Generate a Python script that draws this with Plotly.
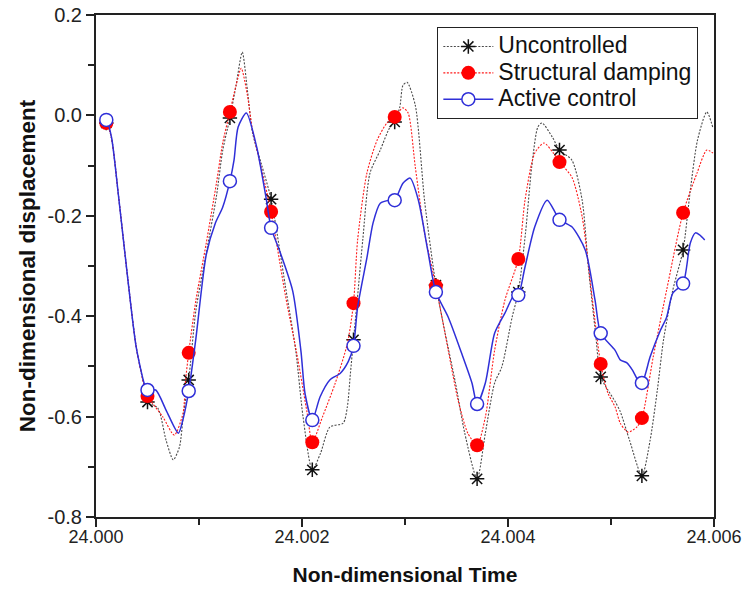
import plotly.graph_objects as go

# Sample instants where the series markers are drawn
marker_t = [24.0001, 24.0005, 24.0009, 24.0013, 24.0017, 24.0021, 24.0025, 24.0029,
            24.0033, 24.0037, 24.0041, 24.0045, 24.0049, 24.0053, 24.0057]
unc_marker = [-0.015, -0.571, -0.527, -0.005, -0.167, -0.706, -0.447, -0.013,
              -0.338, -0.724, -0.352, -0.069, -0.521, -0.718, -0.268]
damp_marker = [-0.015, -0.559, -0.473, 0.007, -0.192, -0.651, -0.374, -0.003,
               -0.340, -0.657, -0.286, -0.093, -0.495, -0.603, -0.194]
act_marker = [-0.009, -0.547, -0.549, -0.131, -0.224, -0.607, -0.459, -0.169,
              -0.352, -0.575, -0.358, -0.208, -0.434, -0.533, -0.335]

# Response history between the marker instants
unc_t = [24.00004, 24.00015, 24.00022, 24.00031, 24.00039, 24.00047, 24.00060, 24.00068,
         24.00075, 24.00081, 24.00085, 24.00097, 24.00107, 24.00117, 24.00123, 24.00136,
         24.00142, 24.00147, 24.00152, 24.00161, 24.00184, 24.00194, 24.00201, 24.00218,
         24.00227, 24.00240, 24.00244, 24.00247, 24.00253, 24.00259, 24.00266, 24.00276,
         24.00285, 24.00295, 24.00298, 24.00302, 24.00310, 24.00319, 24.00339, 24.00349,
         24.00358, 24.00378, 24.00387, 24.00394, 24.00404, 24.00417, 24.00423, 24.00429,
         24.00433, 24.00443, 24.00462, 24.00472, 24.00478, 24.00485, 24.00497, 24.00504,
         24.00509, 24.00518, 24.00538, 24.00545, 24.00551, 24.00560, 24.00577, 24.00584,
         24.00593, 24.00599]
unc_v = [-0.012, -0.045, -0.163, -0.328, -0.461, -0.541, -0.583, -0.647,
         -0.686, -0.661, -0.593, -0.388, -0.275, -0.160, -0.070, 0.060,
         0.126, 0.050, -0.035, -0.100, -0.342, -0.470, -0.600, -0.673,
         -0.621, -0.613, -0.581, -0.514, -0.382, -0.248, -0.115, -0.069,
         -0.025, 0.017, 0.060, 0.066, 0.020, -0.170, -0.434, -0.533,
         -0.633, -0.633, -0.533, -0.501, -0.402, -0.234, -0.103, -0.023,
         -0.015, -0.043, -0.089, -0.169, -0.302, -0.434, -0.547, -0.570,
         -0.590, -0.647, -0.647, -0.547, -0.447, -0.348, -0.149, -0.049,
         0.007, -0.025]

damp_t = [24.00004, 24.00015, 24.00022, 24.00031, 24.00039, 24.00047, 24.00065, 24.00076,
          24.000845, 24.00087, 24.00097, 24.00107, 24.00117, 24.00123, 24.00136, 24.00141,
          24.00147, 24.00152, 24.00161, 24.00184, 24.00195, 24.00205, 24.00220, 24.00232,
          24.00244, 24.00254, 24.00263, 24.00273, 24.002825, 24.00298, 24.00303, 24.00310,
          24.00319, 24.00342, 24.003515, 24.00361, 24.00378, 24.00387, 24.00397, 24.004165,
          24.00426, 24.00435, 24.00444, 24.00462, 24.00472, 24.00482, 24.00497, 24.00504,
          24.00509, 24.005165, 24.00525, 24.00541, 24.00554, 24.005835, 24.00593, 24.00599]
damp_v = [-0.015, -0.045, -0.163, -0.328, -0.461, -0.541, -0.601, -0.637,
          -0.593, -0.527, -0.368, -0.255, -0.134, -0.055, 0.060, 0.094,
          0.040, -0.030, -0.110, -0.360, -0.475, -0.593, -0.600, -0.535,
          -0.455, -0.248, -0.115, -0.049, -0.015, 0.015, 0.005, -0.103,
          -0.234, -0.468, -0.567, -0.633, -0.601, -0.468, -0.368, -0.169,
          -0.075, -0.055, -0.075, -0.123, -0.202, -0.368, -0.553, -0.581,
          -0.613, -0.631, -0.621, -0.481, -0.348, -0.115, -0.069, -0.075]

act_t = [24.00004, 24.00015, 24.00022, 24.00031, 24.00039, 24.00047, 24.00058, 24.00068,
         24.00080, 24.00085, 24.00097, 24.00107, 24.00116, 24.00123, 24.00134, 24.00138,
         24.00146, 24.00156, 24.00165, 24.00179, 24.00191, 24.00199, 24.00203, 24.002175,
         24.00227, 24.00237, 24.00245, 24.00254, 24.00263, 24.00269, 24.00276, 24.00285,
         24.00298, 24.00305, 24.00313, 24.00322, 24.00342, 24.00355, 24.00365, 24.00378,
         24.00387, 24.00397, 24.00407, 24.004165, 24.00426, 24.00438, 24.00446, 24.00462,
         24.00475, 24.004845, 24.00504, 24.00509, 24.005155, 24.00521, 24.00526, 24.00538,
         24.00548, 24.00554, 24.00560, 24.00577, 24.00582, 24.00586, 24.00591]
act_v = [-0.012, -0.043, -0.163, -0.328, -0.461, -0.535, -0.547, -0.587,
         -0.633, -0.601, -0.444, -0.278, -0.214, -0.183, -0.089, -0.023,
         0.005, -0.063, -0.163, -0.274, -0.350, -0.470, -0.555, -0.561,
         -0.527, -0.514, -0.490, -0.382, -0.284, -0.214, -0.175, -0.169,
         -0.135, -0.125, -0.169, -0.268, -0.402, -0.474, -0.533, -0.533,
         -0.434, -0.394, -0.354, -0.302, -0.222, -0.169, -0.194, -0.222,
         -0.268, -0.368, -0.468, -0.487, -0.493, -0.508, -0.527, -0.481,
         -0.428, -0.402, -0.354, -0.254, -0.234, -0.238, -0.248]

x_ticks = [24.000, 24.002, 24.004, 24.006]
x_labels = ["24.000", "24.002", "24.004", "24.006"]
y_ticks = [0.2, 0.0, -0.2, -0.4, -0.6, -0.8]
y_labels = ["0.2", "0.0", "-0.2", "-0.4", "-0.6", "-0.8"]

FONT = "Liberation Sans, Arial, sans-serif"


def merged(line_t, line_v, mk_t, mk_v):
    """Join the history with the marker samples; return x, y and marker indices."""
    assert len(line_t) == len(line_v) and len(mk_t) == len(mk_v)
    pts = [(t, v, False) for t, v in zip(line_t, line_v)]
    pts += [(t, v, True) for t, v in zip(mk_t, mk_v)]
    pts.sort(key=lambda p: p[0])
    xs = [p[0] for p in pts]
    ys = [p[1] for p in pts]
    idx = [i for i, p in enumerate(pts) if p[2]]
    return xs, ys, idx


series = [
    ("Uncontrolled", unc_t, unc_v, unc_marker,
     dict(color="#4a4a4a", width=1.1, dash="2px,1.5px"),
     dict(symbol="asterisk-open", size=12, color="#111111",
          line=dict(color="#111111", width=1.5))),
    ("Structural damping", damp_t, damp_v, damp_marker,
     dict(color="#ff1a1a", width=1.1, dash="2px,1.5px"),
     dict(symbol="circle", size=14, color="#ff0000",
          line=dict(color="#ff0000", width=0))),
    ("Active control", act_t, act_v, act_marker,
     dict(color="#2f2fd8", width=1.5),
     dict(symbol="circle", size=13, color="white",
          line=dict(color="#2f2fd8", width=1.5))),
]

fig = go.Figure()
for name, lt, lv, mv, line, marker in series:
    xs, ys, idx = merged(lt, lv, marker_t, mv)
    fig.add_trace(go.Scatter(
        x=xs, y=ys, mode="lines+markers",
        name='<span style="font-size:23px">%s</span>' % name,
        line=dict(shape="spline", smoothing=0.7, **line),
        marker=marker,
        selectedpoints=idx,
        selected=dict(marker=dict(opacity=1)),
        unselected=dict(marker=dict(opacity=0)),
    ))

axis_common = dict(
    showgrid=False, zeroline=False, showline=True, mirror=True, automargin=False,
    linecolor="#222222", linewidth=2, ticks="outside", tickcolor="#222222",
    tickwidth=1.5, ticklen=8,
)

fig.update_xaxes(
    range=[24.000, 24.006], tickmode="array", tickvals=x_ticks, ticktext=x_labels,
    ticklabelstandoff=-6,
    tickfont=dict(family=FONT, size=18, color="#222222"),
    minor=dict(dtick=0.001, tick0=24.0, ticks="outside", ticklen=6,
               tickcolor="#222222", tickwidth=1.5),
    title=dict(text="Non-dimensional Time", standoff=22,
               font=dict(family=FONT, size=21, color="#111111", weight="bold")),
    **axis_common,
)
fig.update_yaxes(
    range=[-0.8, 0.2], tickmode="array", tickvals=y_ticks, ticktext=y_labels,
    tickfont=dict(family=FONT, size=20, color="#222222"),
    minor=dict(dtick=0.1, tick0=0.0, ticks="outside", ticklen=6,
               tickcolor="#222222", tickwidth=1.5),
    title=dict(text="Non-dimensional displacement", standoff=6,
               font=dict(family=FONT, size=22.5, color="#111111", weight="bold")),
    **axis_common,
)

fig.update_layout(
    width=746, height=592,
    margin=dict(l=96, r=32, t=15, b=75),
    paper_bgcolor="white", plot_bgcolor="white",
    showlegend=True,
    legend=dict(
        x=0.552, y=0.976, xanchor="left", yanchor="top",
        bgcolor="white", bordercolor="#222222", borderwidth=1.2,
        font=dict(family=FONT, size=18, color="#111111"),
        tracegroupgap=0, itemwidth=50,
    ),
)

fig.write_html("out.html")
